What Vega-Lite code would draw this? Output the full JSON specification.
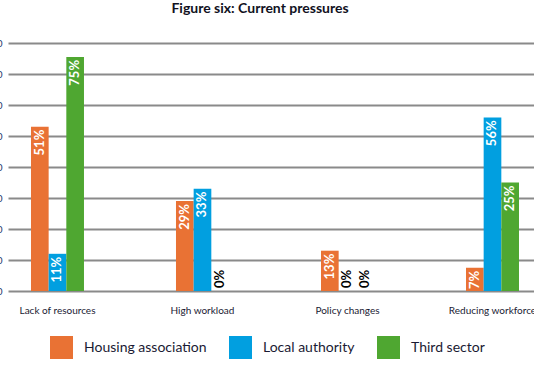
{
  "$schema": "https://vega.github.io/schema/vega-lite/v6.json",
  "autosize": "none",
  "width": 526,
  "height": 248,
  "padding": {"left": 8, "top": 43, "right": 0, "bottom": 81},
  "background": "white",
  "title": {
    "text": "Figure six: Current pressures",
    "font": "Lato",
    "fontSize": 14,
    "fontWeight": "bold",
    "color": "#111122",
    "anchor": "middle",
    "dx": -11,
    "offset": 22
  },
  "config": {
    "view": {"stroke": null},
    "font": "Lato"
  },
  "data": {
    "values": [
      {"category": "Lack of resources", "sector": "Housing association", "pct": 53, "label": "51%"},
      {"category": "Lack of resources", "sector": "Local authority", "pct": 12, "label": "11%"},
      {"category": "Lack of resources", "sector": "Third sector", "pct": 75.5, "label": "75%"},
      {"category": "High workload", "sector": "Housing association", "pct": 29, "label": "29%"},
      {"category": "High workload", "sector": "Local authority", "pct": 33, "label": "33%"},
      {"category": "High workload", "sector": "Third sector", "pct": 0, "label": "0%"},
      {"category": "Policy changes", "sector": "Housing association", "pct": 13, "label": "13%"},
      {"category": "Policy changes", "sector": "Local authority", "pct": 0, "label": "0%"},
      {"category": "Policy changes", "sector": "Third sector", "pct": 0, "label": "0%"},
      {"category": "Reducing workforce", "sector": "Housing association", "pct": 7.5, "label": "7%"},
      {"category": "Reducing workforce", "sector": "Local authority", "pct": 56, "label": "56%"},
      {"category": "Reducing workforce", "sector": "Third sector", "pct": 35, "label": "25%"}
    ]
  },
  "encoding": {
    "x": {
      "field": "category",
      "type": "nominal",
      "sort": ["Lack of resources", "High workload", "Policy changes", "Reducing workforce"],
      "scale": {"paddingInner": 0.6345, "paddingOuter": 0.131, "align": 0.605},
      "axis": {
        "title": null,
        "labelAngle": 0,
        "domain": false,
        "ticks": false,
        "labelPadding": 14,
        "labelFontSize": 10,
        "labelColor": "#1a1a33",
        "labelFont": "Lato"
      }
    },
    "xOffset": {
      "field": "sector",
      "type": "nominal",
      "sort": ["Housing association", "Local authority", "Third sector"],
      "scale": {"paddingInner": 0, "paddingOuter": 0}
    },
    "y": {
      "field": "pct",
      "type": "quantitative",
      "scale": {"domain": [0, 80], "nice": false},
      "axis": {
        "title": null,
        "values": [0, 10, 20, 30, 40, 50, 60, 70, 80],
        "format": "d",
        "grid": true,
        "gridColor": "#8a8a8a",
        "gridWidth": 2,
        "domain": false,
        "ticks": false,
        "labelPadding": 6,
        "labelColor": "#1d3a6e",
        "labelFontSize": 10
      }
    }
  },
  "layer": [
    {
      "mark": {"type": "bar"},
      "encoding": {
        "color": {
          "field": "sector",
          "type": "nominal",
          "sort": ["Housing association", "Local authority", "Third sector"],
          "scale": {
            "domain": ["Housing association", "Local authority", "Third sector"],
            "range": ["#E97234", "#019FE0", "#4FA731"]
          },
          "legend": {
            "title": null,
            "orient": "none",
            "direction": "horizontal",
            "legendX": 42,
            "legendY": 293,
            "symbolType": "square",
            "symbolSize": 529,
            "symbolStrokeWidth": 0,
            "symbolOpacity": 1,
            "labelFontSize": 14,
            "labelFont": "Lato",
            "labelColor": "#1a1a33",
            "labelOffset": 11,
            "columnPadding": 22,
            "labelLimit": 300
          }
        }
      }
    },
    {
      "transform": [{"filter": "datum.pct > 0"}],
      "mark": {
        "type": "text",
        "angle": -90,
        "align": "right",
        "baseline": "middle",
        "dx": -3,
        "fontSize": 13,
        "fontWeight": "bold",
        "font": "Lato",
        "color": "white"
      },
      "encoding": {"text": {"field": "label"}}
    },
    {
      "transform": [{"filter": "datum.pct == 0"}],
      "mark": {
        "type": "text",
        "angle": -90,
        "align": "left",
        "baseline": "middle",
        "dx": 3,
        "fontSize": 13,
        "fontWeight": "bold",
        "font": "Lato",
        "color": "black"
      },
      "encoding": {"text": {"field": "label"}}
    }
  ]
}
